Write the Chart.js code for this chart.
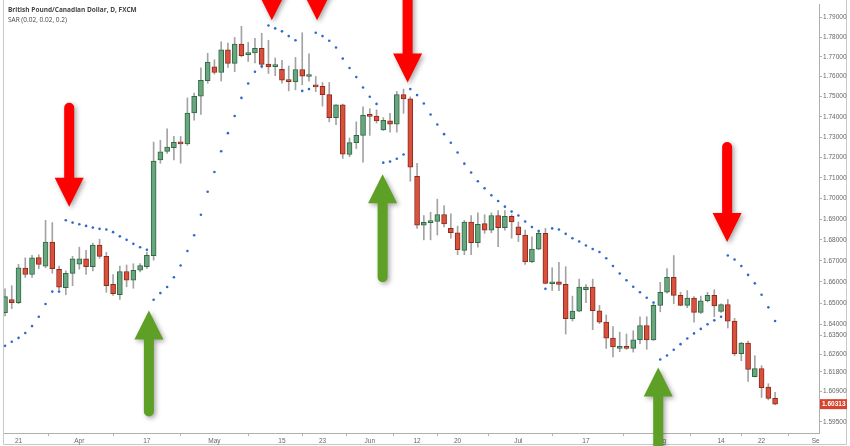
<!DOCTYPE html>
<html>
<head>
<meta charset="utf-8">
<script src="https://cdn.jsdelivr.net/npm/chart.js@4.4.1/dist/chart.umd.min.js"></script>
<style>
  html, body { margin: 0; padding: 0; background: #fff; }
</style>
</head>
<body>
<canvas id="chart" width="850" height="446"></canvas>
<script>
// GBP/CAD daily, Mar 17 - Aug 24 2017 (one entry per trading day)
const opens = [1.6455,1.6517,1.6502,1.6666,1.6635,1.6715,1.6675,1.6789,1.6660,1.6573,
  1.6640,1.6684,1.6709,1.6672,1.6775,1.6721,1.6588,1.6540,1.6649,1.6608,
  1.6656,1.6672,1.6725,1.7187,1.7229,1.7248,1.7272,1.7266,1.7419,1.7502,
  1.7580,1.7649,1.7621,1.7735,1.7667,1.7764,1.7711,1.7720,1.7743,1.7664,
  1.7651,1.7637,1.7583,1.7574,1.7636,1.7601,1.7555,1.7552,1.7510,1.7396,
  1.7460,1.7214,1.7272,1.7308,1.7409,1.7404,1.7335,1.7380,1.7364,1.7510,
  1.7489,1.7107,1.6870,1.6883,1.6889,1.6922,1.6855,1.6834,1.6750,1.6886,
  1.6787,1.6878,1.6847,1.6917,1.6859,1.6913,1.6862,1.6823,1.6695,1.6756,
  1.6831,1.6591,1.6600,1.6588,1.6427,1.6462,1.6563,1.6575,1.6464,1.6411,
  1.6336,1.6288,1.6296,1.6288,1.6328,1.6395,1.6328,1.6489,1.6551,1.6621,
  1.6536,1.6489,1.6524,1.6456,1.6511,1.6536,1.6461,1.6493,1.6415,1.6264,
  1.6313,1.6157,1.6195,1.6109,1.6058];
const highs = [1.6567,1.6582,1.6683,1.6714,1.6726,1.6729,1.6894,1.6883,1.6675,1.6652,
  1.6721,1.6765,1.6750,1.6784,1.6803,1.6740,1.6635,1.6675,1.6680,1.6686,
  1.6687,1.6742,1.7275,1.7284,1.7340,1.7303,1.7303,1.7494,1.7518,1.7644,
  1.7718,1.7685,1.7776,1.7769,1.7798,1.7855,1.7773,1.7793,1.7819,1.7784,
  1.7694,1.7682,1.7654,1.7697,1.7822,1.7715,1.7601,1.7571,1.7571,1.7461,
  1.7463,1.7295,1.7375,1.7450,1.7440,1.7434,1.7396,1.7417,1.7526,1.7538,
  1.7499,1.7171,1.6917,1.6933,1.6996,1.6965,1.6925,1.6866,1.6894,1.6917,
  1.6930,1.6921,1.6930,1.6941,1.6941,1.6921,1.6886,1.6847,1.6815,1.6847,
  1.6855,1.6667,1.6693,1.6672,1.6533,1.6613,1.6587,1.6613,1.6489,1.6444,
  1.6390,1.6364,1.6355,1.6370,1.6436,1.6436,1.6497,1.6598,1.6663,1.6725,
  1.6551,1.6559,1.6531,1.6533,1.6551,1.6563,1.6497,1.6517,1.6428,1.6317,
  1.6322,1.6254,1.6208,1.6125,1.6085];
const lows = [1.6440,1.6474,1.6497,1.6621,1.6621,1.6663,1.6667,1.6641,1.6563,1.6539,
  1.6582,1.6660,1.6635,1.6652,1.6712,1.6551,1.6536,1.6517,1.6577,1.6570,
  1.6647,1.6664,1.6703,1.7171,1.7219,1.7187,1.7171,1.7259,1.7383,1.7412,
  1.7567,1.7613,1.7578,1.7647,1.7625,1.7700,1.7677,1.7669,1.7644,1.7616,
  1.7605,1.7567,1.7529,1.7534,1.7559,1.7578,1.7525,1.7453,1.7375,1.7361,
  1.7195,1.7203,1.7243,1.7176,1.7308,1.7369,1.7332,1.7324,1.7324,1.7417,
  1.7083,1.6855,1.6800,1.6800,1.6823,1.6862,1.6808,1.6729,1.6729,1.6729,
  1.6765,1.6831,1.6834,1.6768,1.6847,1.6808,1.6792,1.6683,1.6691,1.6753,
  1.6590,1.6559,1.6559,1.6355,1.6416,1.6459,1.6502,1.6375,1.6404,1.6288,
  1.6249,1.6273,1.6284,1.6271,1.6310,1.6284,1.6325,1.6459,1.6547,1.6497,
  1.6487,1.6478,1.6410,1.6451,1.6505,1.6436,1.6456,1.6383,1.6254,1.6231,
  1.6136,1.6156,1.6062,1.6051,1.6029];
const closes = [1.6530,1.6502,1.6667,1.6635,1.6714,1.6683,1.6789,1.6663,1.6575,1.6640,
  1.6709,1.6709,1.6672,1.6775,1.6721,1.6582,1.6544,1.6649,1.6608,1.6655,
  1.6677,1.6726,1.7182,1.7227,1.7250,1.7274,1.7266,1.7419,1.7502,1.7582,
  1.7674,1.7621,1.7735,1.7667,1.7764,1.7706,1.7720,1.7743,1.7662,1.7649,
  1.7661,1.7582,1.7575,1.7636,1.7603,1.7610,1.7549,1.7510,1.7396,1.7460,
  1.7216,1.7272,1.7308,1.7407,1.7402,1.7380,1.7382,1.7364,1.7510,1.7489,
  1.7152,1.6870,1.6884,1.6891,1.6922,1.6876,1.6834,1.6753,1.6886,1.6787,
  1.6875,1.6847,1.6917,1.6859,1.6913,1.6886,1.6825,1.6695,1.6756,1.6831,
  1.6593,1.6600,1.6588,1.6427,1.6462,1.6575,1.6575,1.6464,1.6411,1.6336,
  1.6295,1.6296,1.6288,1.6328,1.6395,1.6328,1.6489,1.6551,1.6621,1.6536,
  1.6489,1.6524,1.6456,1.6511,1.6536,1.6487,1.6493,1.6415,1.6264,1.6313,
  1.6191,1.6195,1.6107,1.6058,1.60313];
// Parabolic SAR (0.02, 0.02, 0.2)
const sar = [1.6300,1.6319,1.6337,1.6360,1.6392,1.6436,1.6496,1.6554,1.6554,1.6894,
  1.6883,1.6875,1.6867,1.6859,1.6853,1.6850,1.6837,1.6817,1.6800,1.6781,
  1.6765,1.6753,1.6516,1.6547,1.6576,1.6622,1.6678,1.6747,1.6822,1.6921,
  1.7032,1.7128,1.7230,1.7319,1.7404,1.7494,1.7566,1.7625,1.7652,1.7859,
  1.7844,1.7829,1.7805,1.7784,1.7529,1.7538,1.7822,1.7805,1.7781,1.7747,
  1.7691,1.7644,1.7598,1.7546,1.7500,1.7464,1.7174,1.7179,1.7193,1.7214,
  1.7538,1.7508,1.7466,1.7411,1.7362,1.7314,1.7272,1.7224,1.7169,1.7126,
  1.7083,1.7049,1.7015,1.6987,1.6960,1.6936,1.6917,1.6888,1.6862,1.6842,
  1.6567,1.6855,1.6850,1.6829,1.6808,1.6792,1.6773,1.6756,1.6742,1.6712,
  1.6675,1.6640,1.6608,1.6577,1.6551,1.6525,1.6503,1.6237,1.6255,1.6282,
  1.6308,1.6334,1.6358,1.6379,1.6401,1.6419,1.6436,1.6725,1.6706,1.6675,
  1.6633,1.6593,1.6539,1.6480,1.6416];

// x axis labels, by trading-day index
const xTickIdx = [2, 11, 21, 31, 41, 47, 54, 61, 67, 76, 86, 97, 106, 112, 120];
const xTickText = ["21", "Apr", "17", "May", "15", "23", "Jun", "12", "20", "Jul", "17", "Aug", "14", "22", "Se"];
const yTicks = [1.79, 1.78, 1.77, 1.76, 1.75, 1.74, 1.73, 1.72, 1.71, 1.70, 1.69, 1.68, 1.67, 1.66, 1.65, 1.64, 1.635, 1.626, 1.618, 1.609, 1.595];

// signal arrows: candle index, tip price, tail price
const downArrows = [[9.5, 1.6960, 1.7445], [39.5, 1.7885, 1.83], [46.2, 1.7885, 1.83], [59.6, 1.7571, 1.83], [106.9, 1.6790, 1.7251]];
const upArrows = [[21.3, 1.6465, 1.5998], [55.9, 1.7117, 1.6622], [96.7, 1.6200, 1.57]];

const idx = closes.map((c, i) => i);
const isUp = closes.map((c, i) => c >= opens[i]);

function drawArrow(ctx, x, yTip, yTail, color) {
  const dir = yTip > yTail ? 1 : -1; // 1 = pointing down
  const yBase = yTip - dir * 29;
  ctx.save();
  ctx.shadowColor = "rgba(0,0,0,0.35)";
  ctx.shadowBlur = 5;
  ctx.shadowOffsetX = 2;
  ctx.shadowOffsetY = 2;
  ctx.fillStyle = color;
  ctx.beginPath();
  ctx.moveTo(x - 5, yTail);
  ctx.lineTo(x - 5, yBase);
  ctx.lineTo(x - 14.5, yBase);
  ctx.lineTo(x, yTip);
  ctx.lineTo(x + 14.5, yBase);
  ctx.lineTo(x + 5, yBase);
  ctx.lineTo(x + 5, yTail);
  ctx.arc(x, yTail, 5, 0, Math.PI, dir > 0);
  ctx.closePath();
  ctx.fill();
  ctx.restore();
}

const decor = {
  id: "decor",
  beforeDraw(chart) {
    const ctx = chart.ctx;
    ctx.save();
    ctx.fillStyle = "#fff";
    ctx.fillRect(0, 0, chart.width, chart.height);
    ctx.strokeStyle = "#c9c9c9";
    ctx.lineWidth = 1;
    ctx.beginPath();
    ctx.moveTo(3.5, 0); ctx.lineTo(3.5, 444.5);
    ctx.lineTo(846.5, 444.5); ctx.lineTo(846.5, 0);
    ctx.stroke();
    ctx.restore();
  },
  afterDraw(chart) {
    const ctx = chart.ctx;
    const xs = chart.scales.x, ys = chart.scales.y;
    ctx.save();
    // legend text
    ctx.fillStyle = "#444";
    ctx.textBaseline = "middle";
    ctx.font = "bold 6.5px 'Open Sans'";
    ctx.fillText("British Pound/Canadian Dollar, D, FXCM", 8, 10);
    ctx.font = "6.5px 'Open Sans'";
    ctx.fillText("SAR (0.02, 0.02, 0.2)", 8, 20.5);
    // last price tag
    const last = closes[closes.length - 1];
    const py = ys.getPixelForValue(last);
    ctx.fillStyle = "#d8432e";
    ctx.fillRect(820, py - 5, 27, 10);
    ctx.fillStyle = "#fff";
    ctx.font = "bold 6.5px 'Liberation Sans'";
    ctx.textAlign = "left";
    ctx.fillText(last.toFixed(5), 822, py + 0.5);
    ctx.restore();
    downArrows.forEach(a => drawArrow(ctx, xs.getPixelForValue(a[0]), ys.getPixelForValue(a[1]), ys.getPixelForValue(a[2]), "#fe0000"));
    upArrows.forEach(a => drawArrow(ctx, xs.getPixelForValue(a[0]), ys.getPixelForValue(a[1]), ys.getPixelForValue(a[2]), "#5e9f25"));
  }
};

new Chart(document.getElementById("chart"), {
  type: "bar",
  data: {
    datasets: [
      {
        type: "scatter",
        data: idx.map(i => ({ x: i, y: sar[i] })),
        pointRadius: 1.3,
        pointBorderWidth: 0,
        backgroundColor: "#3168cc",
        order: 0
      },
      {
        data: idx.map(i => ({ x: i, y: [opens[i], closes[i]] })),
        backgroundColor: idx.map(i => isUp[i] ? "#69a57e" : "#d9513d"),
        borderColor: idx.map(i => isUp[i] ? "#2f6a45" : "#8d2a1b"),
        borderWidth: 1,
        borderSkipped: false,
        barThickness: 5,
        minBarLength: 2,
        grouped: false,
        order: 1
      },
      {
        data: idx.map(i => ({ x: i, y: [lows[i], highs[i]] })),
        backgroundColor: "#a3a3a3",
        barThickness: 1,
        grouped: false,
        order: 2
      }
    ]
  },
  options: {
    responsive: false,
    animation: false,
    layout: { padding: { left: 3, right: 0, top: 0, bottom: 0 } },
    plugins: { legend: { display: false }, tooltip: { enabled: false } },
    scales: {
      x: {
        type: "linear",
        offset: false,
        min: -0.15,
        max: 120.5,
        afterBuildTicks: s => { s.ticks = xTickIdx.map(v => ({ value: v })); },
        afterFit: s => { s.height = 13; },
        ticks: {
          autoSkip: false,
          maxRotation: 0,
          padding: 1,
          font: { size: 6.5, family: "'Liberation Sans'" },
          color: "#666",
          callback: v => xTickText[xTickIdx.indexOf(v)]
        },
        grid: { drawOnChartArea: false, tickLength: 3, color: "#b0b0b0" },
        border: { color: "#b0b0b0" }
      },
      y: {
        type: "logarithmic",
        position: "right",
        min: 1.5919,
        max: 1.7964,
        afterBuildTicks: s => { s.ticks = yTicks.map(v => ({ value: v })); },
        afterFit: s => { s.width = 31; },
        ticks: {
          padding: 1,
          font: { size: 6.5, family: "'Liberation Sans'" },
          color: "#666",
          callback: v => Number(v).toFixed(5)
        },
        grid: { drawOnChartArea: false, tickLength: 3, color: "#b0b0b0" },
        border: { color: "#b0b0b0" }
      }
    }
  },
  plugins: [decor]
});
</script>
</body>
</html>
